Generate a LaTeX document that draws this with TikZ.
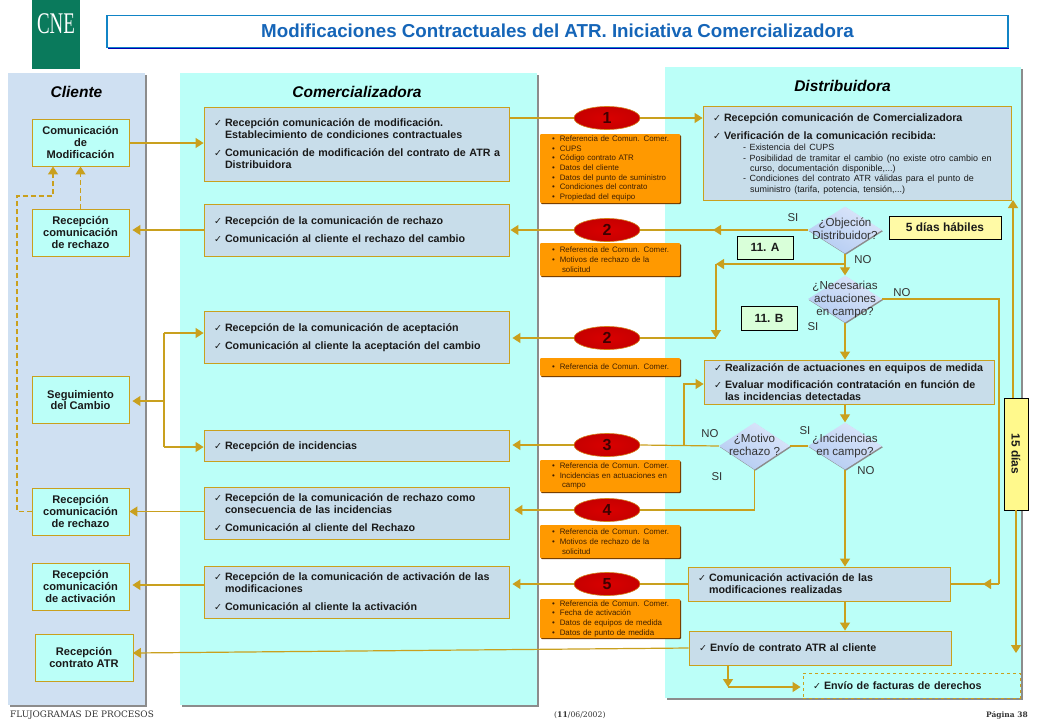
\documentclass[tikz,border=0pt]{standalone}
\usepackage{fontspec}
\setmainfont{Liberation Sans}
\newfontfamily\chkfont{DejaVu Sans}
\newfontfamily\footfont{DejaVu Serif}
\newfontfamily\logofont{Liberation Serif}
\usetikzlibrary{arrows.meta,shapes.geometric,shadows,calc}

\definecolor{lnk}{HTML}{C9A01E}
\definecolor{cliback}{HTML}{CFE0F2}
\definecolor{comback}{HTML}{BBFFF8}
\definecolor{boxfill}{HTML}{C8DDEA}
\definecolor{ink}{HTML}{1A1A1A}
\definecolor{dataorange}{HTML}{FF9900}
\definecolor{cnegreen}{HTML}{0A7A5C}
\definecolor{titleblue}{HTML}{1565B8}
\definecolor{querytop}{HTML}{DCE6FA}
\definecolor{querybot}{HTML}{B4CCF2}

\newcommand\txt[1]{\fontsize{#1}{#1}\selectfont}
\newcommand\chk[1]{\makebox[11pt][l]{\chkfont\mdseries\fontsize{9.5}{9.5}\selectfont ✓}\begin{tabular}[t]{@{}l@{}}#1\end{tabular}}
\newcommand\chkt[1]{\rule{0pt}{11.4pt}\chk{#1}}
\newcommand\dtxt[1]{\smash{\makebox[0pt]{\raisebox{-3.5pt}{\begin{tabular}{@{}c@{}}#1\end{tabular}}}}}
\newcommand\itm[1]{\hspace*{12pt}\textbullet\hspace*{5pt}#1}
\newcommand\itmc[1]{\hspace*{22pt}#1}
\newcommand\sub[1]{\multicolumn{1}{@{}l@{}}{\mdseries\fontsize{8.95}{10.3}\selectfont #1}}

\tikzset{
  panel/.style={rectangle, anchor=north west, inner sep=0pt, drop shadow={shadow xshift=1.5pt, shadow yshift=-1.5pt, fill=black!45, opacity=1}},
  paneltitle/.style={font=\bfseries\itshape\txt{15.5}, text=black},
  clibox/.style={rectangle, draw=lnk, line width=0.9pt, fill=comback, minimum width=97pt, minimum height=47pt, inner sep=0pt, align=center, text=ink, font=\bfseries\fontsize{11.1}{11.6}\selectfont},
  combox/.style={rectangle, draw=lnk, line width=0.9pt, fill=boxfill, minimum width=305pt, inner xsep=10pt, inner ysep=0pt, text width=285pt, align=left, text=ink, font=\bfseries\fontsize{10.7}{12}\selectfont},
  redball/.style={ellipse, draw=lnk!80!red, line width=0.6pt, inner color=red!85!black, outer color=red!78!black, minimum width=66pt, minimum height=23pt, inner sep=0pt, text=black!75!red, font=\bfseries\txt{16}},
  databox/.style={rectangle, fill=dataorange, rounded corners=1pt, minimum width=140pt, inner xsep=0pt, inner ysep=0pt, text width=140pt, align=left, text=black!75!orange, font=\fontsize{7.9}{9.7}\selectfont, drop shadow={shadow xshift=1pt, shadow yshift=-1.2pt, fill=black!60!orange, opacity=1}},
  query/.style={diamond, draw=none, top color=querytop, bottom color=querybot, shading angle=-30, minimum width=74pt, minimum height=47pt, inner sep=0pt, text=black!80, font=\fontsize{11.6}{13}\selectfont, drop shadow={shadow xshift=1pt, shadow yshift=-1.2pt, fill=black!45, opacity=1}},
  term/.style={rectangle, draw=black, line width=0.8pt, inner sep=0pt, font=\bfseries\txt{11.9}, text=ink},
  answer/.style={inner sep=0pt, font=\txt{11.4}, text=black!80},
  foot/.style={inner sep=0pt, font=\footfont, text=black!80},
  link/.style={draw=lnk, line width=1.2pt},
  lnkarrow/.style={link, -{Triangle[length=8pt,width=10pt]}},
  lnkdash/.style={lnkarrow, dash pattern=on 5pt off 3pt}
}

\begin{document}
\begin{tikzpicture}[x=1pt, y=-1pt]

  \newcommand\CX{80.5}
  \newcommand\MX{356.5}
  \newcommand\EX{607}
  \newcommand\OX{610}
  \newcommand\QX{845}

  \useasboundingbox (0,0) rectangle (1040,720);

  % logo and title
  \node[rectangle, fill=cnegreen, minimum width=48pt, minimum height=69pt, inner sep=0pt] (logo) at (56,34.5) {};
  \node[inner sep=0pt, text=white, font=\logofont\txt{30}] (logotext) at (56,24) {\scalebox{0.63}[1]{CNE}};
  \node[rectangle, draw=titleblue!80!cyan, line width=1.5pt, fill=white, minimum width=901pt, minimum height=32pt, inner sep=0pt, font=\bfseries\txt{18.75}, text=titleblue, drop shadow={shadow xshift=1pt, shadow yshift=-1.2pt, fill=blue!70!black, opacity=1}] (title) at (557.5,31.5) {\raisebox{2pt}{Modificaciones Contractuales del ATR. Iniciativa Comercializadora}};

  \node[panel, fill=cliback, minimum width=137pt, minimum height=632pt] (clipanel) at (8,73) {};
  \node[panel, fill=comback, minimum width=357pt, minimum height=632pt] (companel) at (180,73) {};
  \node[panel, fill=comback, minimum width=356pt, minimum height=631pt] (dispanel) at (665,67) {};
  \node[paneltitle] (clititle) at (76.5,92) {Cliente};
  \node[paneltitle] (comtitle) at (357,92) {Comercializadora};
  \node[paneltitle] (distitle) at (842.5,86) {Distribuidora};

  % cliente
  \node[clibox] (cli1) at (\CX,142.5) {Comunicación\\de\\Modificación};
  \node[clibox] (cli2) at (\CX,232.5) {Recepción\\comunicación\\de rechazo};
  \node[clibox] (cli3) at (\CX,400) {Seguimiento\\del Cambio};
  \node[clibox] (cli4) at (\CX,511.5) {Recepción\\comunicación\\de rechazo};
  \node[clibox] (cli5) at (\CX,586.5) {Recepción\\comunicación\\de activación};
  \node[clibox, minimum width=98pt] (cli6) at (84,657.5) {Recepción\\contrato ATR};

  % comercializadora
  \node[combox, minimum height=74pt] (com1) at (\MX,144) {\chkt{Recepción comunicación de modificación.\\Establecimiento de condiciones contractuales}\\[5pt]\chk{Comunicación de modificación del contrato de ATR  a\\Distribuidora}};
  \node[combox, minimum height=52pt] (com2) at (\MX,230) {\chkt{Recepción de la comunicación de rechazo}\\[6pt]\chk{Comunicación al cliente el rechazo del cambio}};
  \node[combox, minimum height=52pt] (com3) at (\MX,337) {\chkt{Recepción de la comunicación de aceptación}\\[6pt]\chk{Comunicación al cliente la aceptación del cambio}};
  \node[combox, minimum height=31pt] (com4) at (\MX,445.5) {\chkt{Recepción de incidencias}};
  \node[combox, minimum height=52pt] (com5) at (\MX,513) {\chkt{Recepción de la comunicación de rechazo como\\consecuencia de las incidencias}\\[5pt]\chk{Comunicación al cliente del Rechazo}};
  \node[combox, minimum height=52pt] (com6) at (\MX,592) {\chkt{Recepción de la comunicación de activación de las\\modificaciones}\\[5pt]\chk{Comunicación al cliente la activación}};

  % circulos y datos
  \node[redball] (red1) at (\EX,118) {1};
  \node[redball] (red2) at (\EX,230) {2};
  \node[redball] (red3) at (\EX,338) {2};
  \node[redball] (red4) at (\EX,445) {3};
  \node[redball] (red5) at (\EX,510) {4};
  \node[redball] (red6) at (\EX,584) {5};

  \node[databox, minimum height=69pt] (data1) at (\OX,168.5) {\itm{Referencia de Comun.  Comer.}\\\itm{CUPS}\\\itm{Código contrato ATR}\\\itm{Datos del cliente}\\\itm{Datos del punto de suministro}\\\itm{Condiciones  del contrato}\\\itm{Propiedad  del equipo}};
  \node[databox, minimum height=33pt] (data2) at (\OX,259.5) {\itm{Referencia de Comun.  Comer.}\\\itm{Motivos de rechazo de la}\\\itmc{solicitud}};
  \node[databox, minimum height=18pt] (data3) at (\OX,367) {\itm{Referencia de Comun.  Comer.}};
  \node[databox, minimum height=32pt] (data4) at (\OX,476) {\itm{Referencia de Comun.  Comer.}\\\itm{Incidencias en actuaciones  en}\\\itmc{campo}};
  \node[databox, minimum height=33pt] (data5) at (\OX,541.5) {\itm{Referencia de Comun.  Comer.}\\\itm{Motivos de rechazo de la}\\\itmc{solicitud}};
  \node[databox, minimum height=39pt] (data6) at (\OX,618.5) {\itm{Referencia de Comun.  Comer.}\\\itm{Fecha de activación}\\\itm{Datos de equipos  de medida}\\\itm{Datos de punto  de medida}};

  % distribuidora
  \node[combox, minimum width=308pt, text width=288pt, minimum height=94pt] (dis1) at (857,153) {\chkt{Recepción comunicación de Comercializadora}\\[6pt]\chk{Verificación de la comunicación recibida:}\\[-1pt]
    \hspace*{30pt}\begin{tabular}[t]{@{}l@{}}\sub{- Existencia del CUPS}\\[-1.7pt]\sub{- Posibilidad de tramitar el cambio (no existe otro cambio en}\\[-1.7pt]\sub{\ \ curso, documentación disponible,...)}\\[-1.7pt]\sub{- Condiciones del contrato ATR válidas para el punto de}\\[-1.7pt]\sub{\ \ suministro (tarifa, potencia, tensión,...)}\end{tabular}};
  \node[combox, minimum width=290pt, text width=270pt, minimum height=42pt] (dis2) at (849,382) {\chkt{Realización de actuaciones en equipos de medida}\\[5pt]\chk{Evaluar modificación contratación en función de\\las incidencias detectadas}};
  \node[combox, minimum width=262pt, text width=242pt, minimum height=34pt] (dis3) at (819,584) {\chkt{Comunicación activación de las\\modificaciones realizadas}};
  \node[combox, minimum width=262pt, text width=242pt, minimum height=34pt] (dis4) at (820,648) {\chkt{Envío de contrato ATR al cliente}};
  \node[combox, dashed, fill=none, minimum width=217pt, text width=197pt, minimum height=25pt] (dis5) at (911.5,685.5) {\chkt{Envío de facturas de derechos}};

  \node[query] (qobj) at (\QX,230) {\dtxt{¿Objeción\\Distribuidor?}};
  \node[query] (qnec) at (\QX,299) {\dtxt{¿Necesarias\\actuaciones\\en campo?}};
  \node[query] (qinc) at (\QX,446) {\dtxt{¿Incidencias\\en campo?}};
  \node[query, minimum width=71pt] (qmot) at (754.5,446) {\dtxt{¿Motivo\\rechazo ?}};

  \node[term, fill=yellow!35, minimum width=112pt, minimum height=23pt] (days5) at (945,227.5) {5 días hábiles};
  \node[term, fill=green!15, minimum width=56pt, minimum height=23pt] (ref11a) at (765,247.5) {11. A};
  \node[term, fill=green!15, minimum width=56pt, minimum height=24pt] (ref11b) at (769,318) {11. B};
  \node[term, fill=yellow!45, rotate=-90, minimum width=112pt, minimum height=24pt] (days15) at (1016,454) {15 días};

  \node[answer] (si1) at (793,218) {SI};
  \node[answer] (no1) at (863,260) {NO};
  \node[answer] (no2) at (902,293) {NO};
  \node[answer] (si2) at (813,327) {SI};
  \node[answer] (no3) at (710,434) {NO};
  \node[answer] (si3) at (805,431) {SI};
  \node[answer] (si4) at (717,477) {SI};
  \node[answer] (no4) at (866,471) {NO};

  % puntos de paso
  \coordinate (dashtop) at (53,196);
  \coordinate (dashleft) at (17,196);
  \coordinate (branch) at (164,401);
  \coordinate (midobj) at (713,230);
  \coordinate (forkobj) at (\QX,264);
  \coordinate (drop) at (716,264);
  \coordinate (dropend) at (716,338);
  \coordinate (rightup) at (999,299);
  \coordinate (midact) at (983,584);
  \coordinate (forkmot) at (684,445);
  \coordinate (motdown) at (754.5,510);
  \coordinate (bigdown) at (1016,653);
  \coordinate (conend) at (133,653);
  \coordinate (facdown) at (728,687);

  % conectores cliente
  \draw[lnkarrow] (cli1.east |- 0,143) -- (com1.west |- 0,143);
  \draw[lnkdash] (cli2.north) -- (cli1.south);
  \draw[lnkdash] (cli4.west) -| (dashleft) -- (dashtop) -- (cli1.south -| dashtop);
  \draw[lnkarrow, shorten >=3pt] (com2.west) -- (com2.west -| cli2.east);
  \draw[lnkarrow, shorten >=3pt] (branch) -- (cli3.east |- branch);
  \draw[link] (branch |- 0,333) -- (branch |- 0,447);
  \draw[lnkarrow] (branch |- 0,333) -- (com3.west |- 0,333);
  \draw[lnkarrow] (branch |- 0,447) -- (com4.west |- 0,447);
  \draw[lnkarrow] (com5.west |- cli4) -- (cli4.east);
  \draw[lnkarrow, shorten >=3pt] (com6.west |- 0,585) -- (cli5.east |- 0,585);
  \draw[lnkarrow] (dis4.west) -- (conend);

  % conectores centro
  \draw[link] (com1.east |- red1) -- (red1.west);
  \draw[lnkarrow] (red1.east) -- (dis1.west |- red1);
  \draw[lnkarrow, shorten >=1pt] (red2.west) -- (com2.east |- red2);
  \draw[link] (qobj.west) -- (red2.east);
  \draw[lnkarrow] (qobj.west) -- (midobj);
  \draw[lnkarrow, shorten >=3pt] (red3.west) -- (com3.east |- red3);
  \draw[link] (red3.east) -- (dropend);
  \draw[lnkarrow, shorten >=3pt] (red4.west) -- (com4.east |- red4);
  \draw[link] (red4.east) -- (qmot.west);
  \draw[lnkarrow, shorten >=5pt] (red5.west) -- (com5.east |- red5);
  \draw[link] (qmot.south) -- (motdown) -- (red5.east);
  \draw[lnkarrow, shorten >=3pt] (red6.west) -- (com6.east |- red6);
  \draw[link] (dis3.west) -- (red6.east);

  % conectores distribuidora
  \draw[lnkarrow] (qobj.south) -- (qnec.north);
  \draw[lnkarrow] (forkobj) -- (drop);
  \draw[lnkarrow] (drop) -- (dropend);
  \draw[lnkarrow] (qnec.south) -- (dis2.north -| qnec);
  \draw[link] (qnec.east) -- (rightup) -- (rightup |- dis3);
  \draw[link] (dis3.east) -- (rightup |- dis3);
  \draw[lnkarrow] (rightup |- dis3) -- (midact);
  \draw[lnkarrow] (dis2.south -| qinc) -- (qinc.north);
  \draw[link] (qinc.west) -- (qmot.east);
  \draw[lnkarrow] (forkmot) |- (dis2.west |- 0,384);
  \draw[lnkarrow] (qinc.south) -- (dis3.north -| qinc);
  \draw[lnkarrow] (dis3.south -| qinc) -- (dis4.north -| qinc);
  \draw[lnkarrow] (days15.west) ++(-3,0) -- (1013,200);
  \draw[lnkarrow] (days15.east) -- (bigdown);
  \draw[lnkarrow] (dis4.south -| facdown) -- (facdown);
  \draw[lnkarrow, shorten >=2pt] (facdown) -- (dis5.west |- facdown);

  % pie
  \node[foot, anchor=west] (foot1) at (10,715) {\txt{8.9}FLUJOGRAMAS DE PROCESOS};
  \node[foot, anchor=west] (foot2) at (554,715) {\txt{7.7}(\textbf{11}/06/2002)};
  \node[foot, anchor=east] (foot3) at (1028,715) {\txt{7.5}\textbf{Página 38}};

\end{tikzpicture}
\end{document}
